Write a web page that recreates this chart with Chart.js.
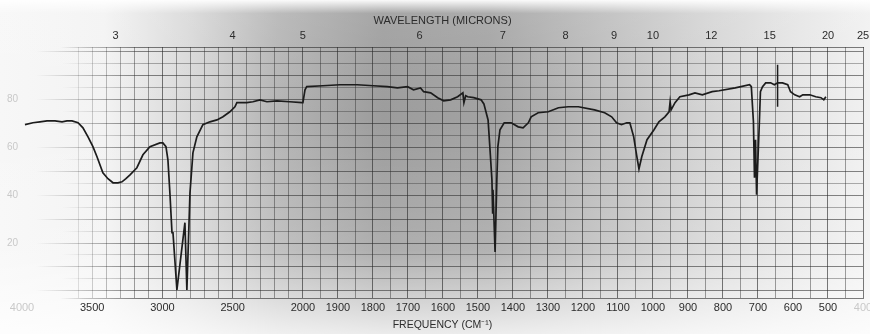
<!DOCTYPE html>
<html><head><meta charset="utf-8">
<script src="https://cdn.jsdelivr.net/npm/chart.js@4.4.1/dist/chart.umd.min.js"></script>
<style>html,body{margin:0;padding:0;background:#fff;}#wrap{width:870px;height:334px;}</style>
</head><body><div id="wrap"><canvas id="c" width="870" height="334"></canvas></div>
<script>
// ---- data ----
const WAVENUMBERS = [3979,3922,3872,3822,3765,3715,3680,3644,3601,3566,
 3530,3495,3466,3424,3388,3352,3317,3288,3260,3231,
 3182,3139,3089,3018,2997,2975,2961,2947,2932,2925,
 2897,2840,2826,2804,2783,2755,2712,2662,2612,2569,
 2520,2484,2470,2449,2399,2356,2306,2256,2185,2093,
 2007,2000,1994,1989,1943,1894,1845,1799,1759,1730,
 1701,1684,1664,1655,1635,1615,1598,1578,1558,1543,
 1540,1535,1529,1512,1491,1483,1471,1466,1460,1458,
 1457,1451,1446,1443,1437,1425,1405,1385,1371,1356,
 1348,1328,1299,1270,1242,1213,1167,1138,1118,1104,
 1090,1075,1066,1055,1046,1040,1032,1017,997,983,
 966,954,951,948,937,923,897,880,859,831,
 811,765,724,719,713,710,707,704,696,693,
 687,678,664,653,644,630,615,607,595,581,
 572,552,535,520,512,506];
const TRANSMITTANCE = [69.5,70.3,70.7,71.1,71.1,70.7,71.1,71.1,70.3,68.2,
 64.4,60.3,56.1,49.4,46.9,45.2,45.2,45.6,46.9,48.5,
 51.5,56.9,60.3,61.9,61.9,60.3,54.8,41.0,24.3,24.3,
 0.4,28.5,0.4,41.0,57.7,64.4,69.5,70.7,71.5,72.8,
 74.9,77.0,78.7,78.7,78.7,79.1,79.9,79.1,79.5,79.1,
 78.7,78.7,84.1,85.4,85.8,86.2,86.2,85.8,85.4,84.9,
 85.4,84.1,84.9,83.3,82.8,80.8,79.5,79.9,81.2,82.8,
 78.7,81.6,81.2,80.8,79.9,78.2,71.5,60.3,46.4,32.6,
 42.3,16.3,46.4,60.3,67.4,70.3,70.3,68.6,68.2,70.3,
 72.8,74.5,74.9,76.6,77.0,77.0,75.7,74.5,72.8,70.3,
 69.5,70.3,70.3,64.4,56.1,51.0,56.1,63.2,67.4,70.7,
 72.8,74.9,79.1,75.7,78.7,81.2,82.0,82.8,82.0,83.3,
 83.7,84.9,86.2,85.4,70.7,47.3,63.2,40.2,70.7,83.3,
 85.4,87.0,87.0,86.2,87.0,87.0,86.2,83.3,82.0,81.2,
 82.0,82.0,81.2,80.8,79.9,81.2];
const MARK_WAVENUMBERS = [644,644];
const MARK_TRANSMITTANCE = [94.6,77.0];
const FREQ_LABELS = [4000,3500,3000,2500,2000,1900,1800,1700,1600,1500,1400,1300,1200,1100,1000,900,800,700,600,500,400];
const MICRON_LABELS = [3,4,5,6,7,8,9,10,12,15,20,25];
const PERCENT_LABELS = [80,60,40,20];

// ---- grid positions (chart paper) ----
const GRID_FREQ = [];
for (let v = 4000; v > 2000; v -= 100) GRID_FREQ.push(v);
for (let v = 2000; v >= 400; v -= 50) GRID_FREQ.push(v);
const GRID_PCT = [];
for (let v = 0; v <= 100; v += 5) GRID_PCT.push(v);

// ---- piecewise-linear frequency scale (4000-2000 compressed, 2000-400 expanded) ----
const HI = 4000, BRK = 2000, LO = 400, BRK_FRAC = 0.334;
class IRScale extends Chart.LinearScale {
  getPixelForValue(v) {
    if (v === null || v === undefined || isNaN(v)) return NaN;
    const f = v >= BRK ? (HI - v) / (HI - BRK) * BRK_FRAC
                       : BRK_FRAC + (BRK - v) / (BRK - LO) * (1 - BRK_FRAC);
    return this.left + f * this.width;
  }
  getValueForPixel(p) {
    const f = (p - this.left) / this.width;
    return f <= BRK_FRAC ? HI - f / BRK_FRAC * (HI - BRK)
                         : BRK - (f - BRK_FRAC) / (1 - BRK_FRAC) * (BRK - LO);
  }
}
IRScale.id = 'irFreq';
IRScale.defaults = Chart.LinearScale.defaults;
Chart.register(IRScale);

const FONT = "'Liberation Sans', Arial, sans-serif";
const INK = '#2c2c2c';

// faded-paper line colours (scan is over-exposed on the left)
const cctx = document.getElementById('c').getContext('2d');
function fadeLine(x0, x1, x2, a1, a2) {
  const g = cctx.createLinearGradient(0, 0, 870, 0);
  g.addColorStop(0, 'rgba(40,40,40,0)');
  g.addColorStop(x0 / 870, 'rgba(40,40,40,0)');
  g.addColorStop(x1 / 870, 'rgba(40,40,40,' + a1 + ')');
  g.addColorStop(x2 / 870, 'rgba(40,40,40,' + a2 + ')');
  g.addColorStop(1, 'rgba(40,40,40,' + a2 + ')');
  return g;
}
const H_MINOR = fadeLine(62, 95, 150, 0.15, 0.36);
const H_MAJOR = fadeLine(36, 70, 140, 0.2, 0.56);
const BORDER = fadeLine(60, 85, 140, 0.25, 0.6);
function vAlpha(v) {
  if (v >= 3700) return 0;
  if (v >= 3600) return 0.14;
  if (v >= 3500) return 0.22;
  if (v >= 3400) return 0.3;
  if (v >= 3300) return 0.36;
  return null;
}

const paperPlugin = {
  id: 'paper',
  beforeDraw(chart) {
    const {ctx, width, height} = chart;
    ctx.save();
    const g = ctx.createLinearGradient(0, 0, width, 0);
    g.addColorStop(0, '#f7f7f7');
    g.addColorStop(0.12, '#f3f3f3');
    g.addColorStop(0.22, '#d8d8d8');
    g.addColorStop(0.32, '#b4b4b4');
    g.addColorStop(0.44, '#9c9c9c');
    g.addColorStop(0.56, '#a2a2a2');
    g.addColorStop(0.68, '#bababa');
    g.addColorStop(0.80, '#d2d2d2');
    g.addColorStop(0.92, '#e6e6e6');
    g.addColorStop(1, '#f1f1f1');
    ctx.fillStyle = g;
    ctx.fillRect(0, 0, width, height);
    const v = ctx.createLinearGradient(0, 0, 0, height);
    v.addColorStop(0, 'rgba(255,255,255,0.95)');
    v.addColorStop(0.04, 'rgba(255,255,255,0.1)');
    v.addColorStop(0.35, 'rgba(255,255,255,0)');
    v.addColorStop(0.75, 'rgba(255,255,255,0.18)');
    v.addColorStop(0.9, 'rgba(255,255,255,0.55)');
    v.addColorStop(1, 'rgba(255,255,255,0.8)');
    ctx.fillStyle = v;
    ctx.fillRect(0, 0, width, height);
    ctx.restore();
  }
};

new Chart(cctx, {
  type: 'line',
  data: {
    datasets: [
      {
        data: WAVENUMBERS.map((x, i) => ({x, y: TRANSMITTANCE[i]})),
        borderColor: '#1c1c1c', borderWidth: 1.7, pointRadius: 0, tension: 0, fill: false
      },
      {
        data: MARK_WAVENUMBERS.map((x, i) => ({x, y: MARK_TRANSMITTANCE[i]})),
        borderColor: '#1c1c1c', borderWidth: 1.5, pointRadius: 0, fill: false
      }
    ]
  },
  options: {
    responsive: false,
    devicePixelRatio: 1,
    animation: false,
    layout: { padding: { left: 0, right: 7, top: 0, bottom: 0 }, autoPadding: false },
    plugins: { legend: { display: false }, tooltip: { enabled: false } },
    scales: {
      x: {
        type: 'irFreq', position: 'bottom', min: LO, max: HI,
        afterBuildTicks: s => { s.ticks = GRID_FREQ.map(v => ({value: v})); },
        afterFit: s => { s.height = 36; s.paddingLeft = 0; s.paddingRight = 0; },
        ticks: {
          autoSkip: false, maxRotation: 0, minRotation: 0, padding: 3,
          color: c => (c.tick && (c.tick.value === 4000 || c.tick.value === 400)) ? '#c9c9c9' : INK,
          font: { family: FONT, size: 11 },
          callback: v => FREQ_LABELS.includes(v) ? String(v) : ''
        },
        grid: {
          drawTicks: false, lineWidth: 1,
          color: c => {
            const v = c.tick ? c.tick.value : 0;
            const a = vAlpha(v);
            if (a !== null) return 'rgba(40,40,40,' + a + ')';
            return FREQ_LABELS.includes(v) ? 'rgba(40,40,40,0.62)' : 'rgba(40,40,40,0.44)';
          }
        },
        border: { display: true, color: BORDER, width: 1 },
        title: { display: true, text: 'FREQUENCY (CM⁻¹)', color: INK, font: { family: FONT, size: 10.5 }, padding: { top: 0, bottom: 3 } }
      },
      xTop: {
        type: 'irFreq', position: 'top', min: LO, max: HI,
        afterBuildTicks: s => { s.ticks = MICRON_LABELS.map(m => ({value: 10000 / m})); },
        afterFit: s => { s.height = 47; s.paddingLeft = 0; s.paddingRight = 0; },
        ticks: {
          autoSkip: false, maxRotation: 0, minRotation: 0, padding: 4,
          color: INK, font: { family: FONT, size: 11 },
          callback: (v, i) => String(MICRON_LABELS[i])
        },
        grid: { display: false, drawTicks: false },
        border: { display: true, color: BORDER, width: 1 },
        title: { display: true, text: 'WAVELENGTH (MICRONS)', color: INK, font: { family: FONT, size: 11 }, padding: { top: 14, bottom: 0 } }
      },
      y: {
        type: 'linear', position: 'left', min: -3, max: 102,
        afterBuildTicks: s => { s.ticks = GRID_PCT.map(v => ({value: v})); },
        afterFit: s => { s.width = 22; s.paddingTop = 0; s.paddingBottom = 0; },
        ticks: {
          autoSkip: false, padding: 4, color: '#c9c9c9',
          font: { family: FONT, size: 10 },
          callback: v => PERCENT_LABELS.includes(v) ? String(v) : ''
        },
        grid: {
          drawTicks: false, lineWidth: 1,
          color: c => (c.tick && c.tick.value % 10 === 0) ? H_MAJOR : H_MINOR
        },
        border: { display: false }
      }
    }
  },
  plugins: [paperPlugin]
});
</script>
</body></html>
